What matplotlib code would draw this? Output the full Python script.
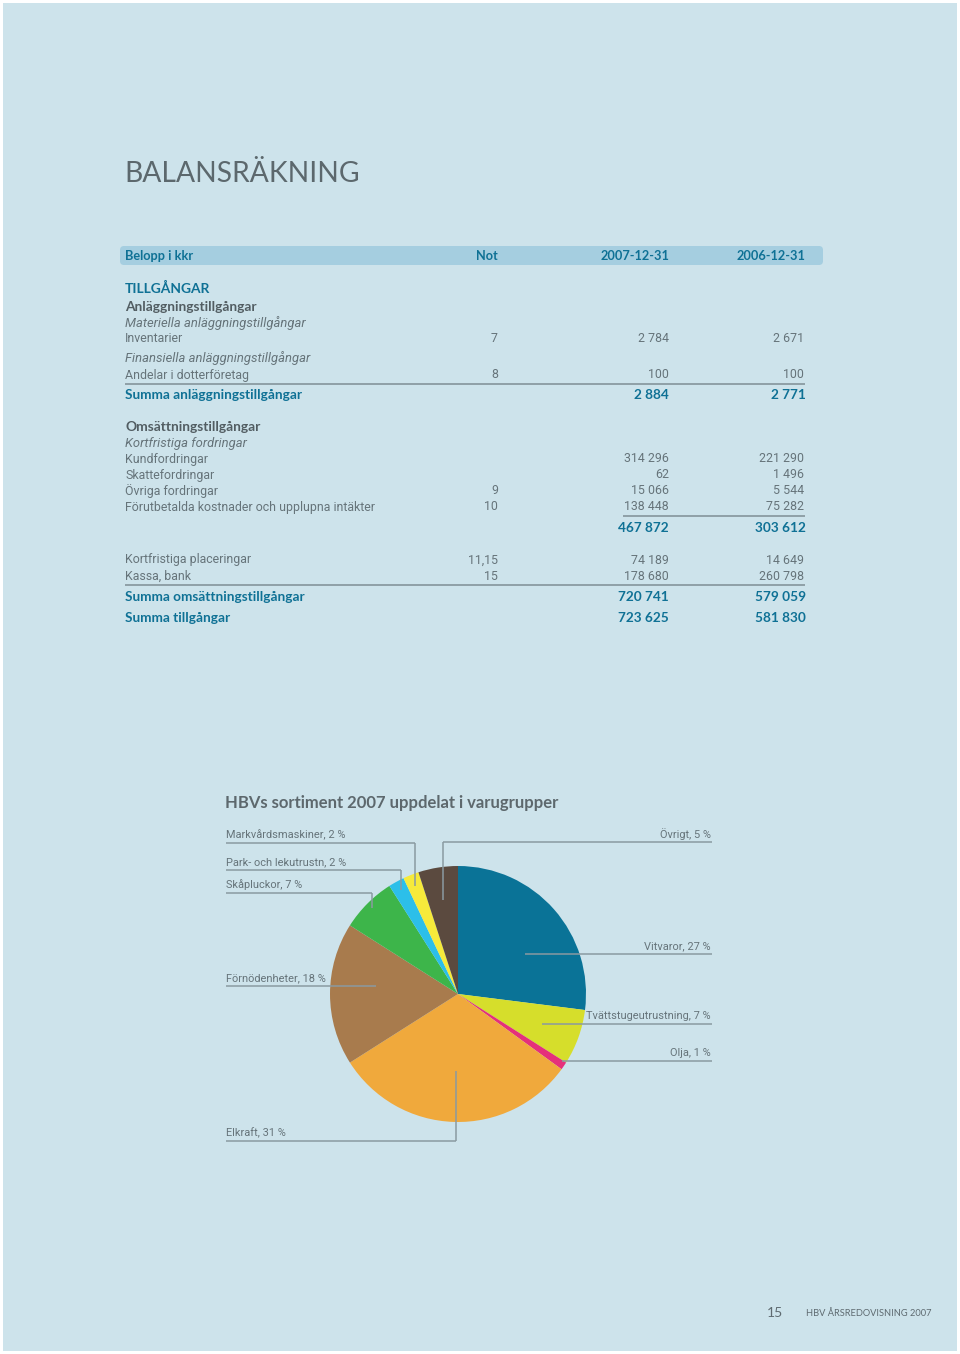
import matplotlib
matplotlib.use('Agg')
import matplotlib.pyplot as plt
from matplotlib.patches import FancyBboxPatch, Rectangle
import numpy as np

W, H = 960, 1354
FONT = ['Lato', 'DejaVu Sans']
BODYFONT = ['Roboto', 'DejaVu Sans']

# ---------------- data ----------------
page_title = "BALANSRÄKNING"
header_labels = ["Belopp i kkr", "Not", "2007-12-31", "2006-12-31"]

row_labels = [
    "TILLGÅNGAR",
    "Anläggningstillgångar",
    "Materiella anläggningstillgångar",
    "Inventarier",
    "Finansiella anläggningstillgångar",
    "Andelar i dotterföretag",
    "Summa anläggningstillgångar",
    "Omsättningstillgångar",
    "Kortfristiga fordringar",
    "Kundfordringar",
    "Skattefordringar",
    "Övriga fordringar",
    "Förutbetalda kostnader och upplupna intäkter",
    "",
    "Kortfristiga placeringar",
    "Kassa, bank",
    "Summa omsättningstillgångar",
    "Summa tillgångar",
]
row_notes = ["", "", "", "7", "", "8", "", "", "", "", "", "9", "10", "", "11,15", "15", "", ""]
values_2007 = [None, None, None, 2784, None, 100, 2884, None, None,
               314296, 62, 15066, 138448, 467872, 74189, 178680, 720741, 723625]
values_2006 = [None, None, None, 2671, None, 100, 2771, None, None,
               221290, 1496, 5544, 75282, 303612, 14649, 260798, 579059, 581830]
row_styles = ["teal", "section", "italic", "normal", "italic", "normal", "sum",
              "section", "italic", "normal", "normal", "normal", "normal", "sum",
              "normal", "normal", "sum", "sum"]

pie_title = "HBVs sortiment 2007 uppdelat i varugrupper"
categories = ["Vitvaror", "Tvättstugeutrustning", "Olja", "Elkraft", "Förnödenheter",
              "Skåpluckor", "Park- och lekutrustn", "Markvårdsmaskiner", "Övrigt"]
shares = [27, 7, 1, 31, 18, 7, 2, 2, 5]
colors = ["#0a7397", "#d6de2b", "#e5307a", "#f0a93c", "#a87b4d",
          "#3db54a", "#2cbfe9", "#f6ea3b", "#5b4a3f"]

# ---------------- layout ----------------
row_y = [288, 307, 323, 339, 358, 375, 395, 427, 443, 459, 475, 491, 507, 528,
         560, 576, 597, 618]
X_LABEL, X_NOT, X_2007, X_2006 = 125, 498, 669, 804

TEAL = "#0f7195"
GRAY = "#66747a"
DARK = "#525d62"
LINE = "#8a9aa1"
BG = "#cde3eb"

fig = plt.figure(figsize=(W / 100, H / 100), dpi=100)
fig.patch.set_facecolor("white")
ax = fig.add_axes([0, 0, 1, 1])
ax.set_xlim(0, W)
ax.set_ylim(0, H)
ax.axis("off")


def Y(y):
    return H - y


ax.add_patch(Rectangle((3, Y(1351)), 954, 1348, facecolor=BG, edgecolor="none", zorder=0))

renderer = fig.canvas.get_renderer()


def fit_size(s, target, family=FONT, **kw):
    t = ax.text(0, 0, s, fontsize=10, family=family, **kw)
    w = t.get_window_extent(renderer=renderer).width
    t.remove()
    return 10 * target / w


def fmt(v):
    return f"{v:,}".replace(",", " ")


# title
ts = fit_size(page_title, 233)
ax.text(124, Y(174), page_title, fontsize=ts, family=FONT,
        color="#5c686d", va="center", ha="left")

# header bar
ax.add_patch(FancyBboxPatch((120, Y(265)), 703, 19,
                            boxstyle="round,pad=0,rounding_size=4",
                            facecolor="#a5cee0", edgecolor="none", zorder=1))
hs = (fit_size("Belopp i kkr", 72, weight="bold") + fit_size("2007-12-31", 65, weight="bold")) / 2
body = fit_size("Förutbetalda kostnader och upplupna intäkter", 251, family=BODYFONT)
sum_size = fit_size("Summa anläggningstillgångar", 176, weight="bold")
sec_size = fit_size("Anläggningstillgångar", 131, weight="bold")
ital_size = fit_size("Materiella anläggningstillgångar", 179, family=BODYFONT, style="italic")
ax.text(X_LABEL, Y(256), header_labels[0], fontsize=hs, family=FONT, weight="bold",
        color=TEAL, va="center", ha="left", zorder=2)
for x, s in zip([X_NOT, X_2007, X_2006 + 1], header_labels[1:]):
    ax.text(x, Y(256), s, fontsize=hs, family=FONT, weight="bold", color=TEAL,
            va="center", ha="right", zorder=2)

# table rows
for lab, note, v7, v6, st, y in zip(row_labels, row_notes, values_2007, values_2006,
                                     row_styles, row_y):
    size = body
    fam = BODYFONT
    if st == "teal":
        kw = dict(color=TEAL, weight="bold"); size = sec_size; fam = FONT
    elif st == "section":
        kw = dict(color=DARK, weight="bold"); size = sec_size; fam = FONT
    elif st == "italic":
        kw = dict(color=GRAY, style="italic"); size = ital_size
    elif st == "sum":
        kw = dict(color=TEAL, weight="bold"); size = sum_size; fam = FONT
    else:
        kw = dict(color=GRAY)
    ax.text(X_LABEL, Y(y), lab, fontsize=size, family=fam, va="center", ha="left", **kw)
    if note:
        ax.text(X_NOT, Y(y), note, fontsize=body, family=BODYFONT, va="center", ha="right",
                color=GRAY)
    if v7 is not None:
        ax.text(X_2007, Y(y), fmt(v7), fontsize=size, family=fam, va="center",
                ha="right", **kw)
    if v6 is not None:
        ax.text(X_2006 + (2 if st == "sum" else 0), Y(y), fmt(v6), fontsize=size,
                family=fam, va="center", ha="right", **kw)

# rules in table
for (x0, x1, y) in [(125, 805, 383.5), (623, 805, 516), (125, 805, 584.5)]:
    ax.plot([x0, x1], [Y(y), Y(y)], color=LINE, lw=1.3, solid_capstyle="butt")

# ---------------- pie ----------------
CX, CY, R = 458, 994, 128
wedges, _ = ax.pie(shares, colors=colors, startangle=90, counterclock=False,
                   center=(CX, Y(CY)), radius=R, frame=True,
                   wedgeprops=dict(linewidth=0))
ax.set_xlim(0, W)
ax.set_ylim(0, H)
ax.set_aspect("auto")
ax.axis("off")

ps = fit_size(pie_title, 335, weight="bold")
ax.text(225, Y(803), pie_title, fontsize=ps, family=FONT, weight="bold",
        color="#5d686d", va="center", ha="left")

ls = fit_size("Markvårdsmaskiner, 2 %", 119, family=BODYFONT)

# label placement: (side, text x, underline y, anchor radius fraction, vertical?)
label_layout = {
    "Markvårdsmaskiner": ("L", 226, 843, 0.91, True),
    "Park- och lekutrustn": ("L", 226, 870, 0.93, True),
    "Skåpluckor": ("L", 226, 893, 0.95, True),
    "Övrigt": ("R", 712, 842, 0.74, True),
    "Vitvaror": ("R", 712, 954, 0.70, False),
    "Tvättstugeutrustning": ("R", 712, 1024, 0.70, False),
    "Olja": ("R", 712, 1061, 0.98, False),
    "Förnödenheter": ("L", 226, 986, 0.64, False),
    "Elkraft": ("L", 226, 1141, 0.60, True),
}

for w, cat, sh in zip(wedges, categories, shares):
    side, tx, uy, frac, vert = label_layout[cat]
    mid = np.deg2rad((w.theta1 + w.theta2) / 2)
    ex = CX + frac * R * np.cos(mid)
    ey = Y(CY) + frac * R * np.sin(mid)
    text = f"{cat}, {sh} %"
    if side == "L":
        ax.plot([tx, ex], [Y(uy), Y(uy)], color=LINE, lw=1.1, solid_capstyle="butt", zorder=5)
        ax.text(tx, Y(uy - 8), text, fontsize=ls, family=BODYFONT, color=GRAY,
                va="center", ha="left")
    else:
        ax.plot([ex, tx], [Y(uy), Y(uy)], color=LINE, lw=1.1, solid_capstyle="butt", zorder=5)
        ax.text(tx - 1, Y(uy - 8), text, fontsize=ls, family=BODYFONT, color=GRAY,
                va="center", ha="right")
    if vert:
        ax.plot([ex, ex], [Y(uy), ey], color=LINE, lw=1.1, solid_capstyle="butt", zorder=5)

# footer
ax.text(783, Y(1313), "15", fontsize=10, family=FONT, color="#5e6a70",
        va="center", ha="right")
fs = fit_size("HBV ÅRSREDOVISNING 2007", 125)
ax.text(806, Y(1313.5), "HBV ÅRSREDOVISNING 2007", fontsize=fs, family=FONT,
        color="#5e6a70", va="center", ha="left")

fig.savefig("out.png", dpi=100, facecolor=fig.get_facecolor())
